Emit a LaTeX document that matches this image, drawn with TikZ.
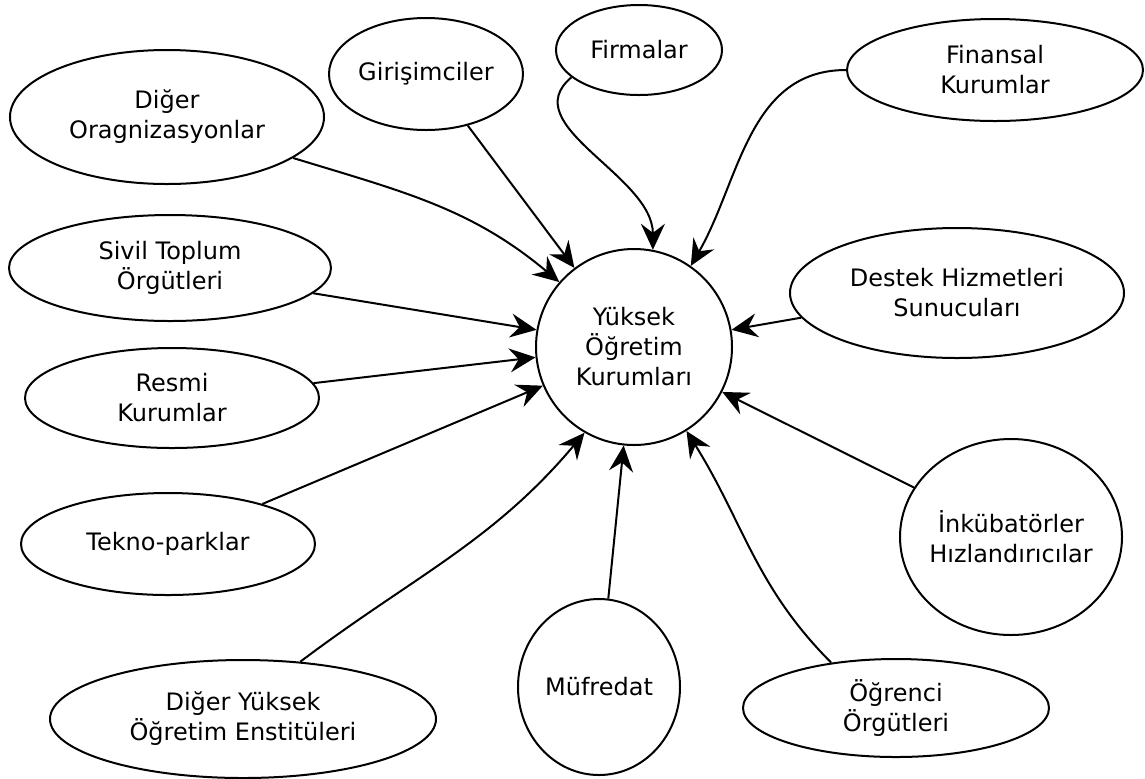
\documentclass[tikz,border=0pt]{standalone}
\usepackage{fontspec}
\setmainfont{DejaVu Sans}
\usetikzlibrary{shapes.geometric,arrows.meta}

\tikzset{
  kurum/.style={draw, ellipse, line width=1pt, inner sep=0pt, align=center},
  merkezi/.style={draw, circle, line width=1pt, inner sep=0pt, align=center},
  ok/.style={draw, line width=1pt, -{Stealth[length=13pt,width=12pt,inset=4.5pt]}}
}

\begin{document}
\begin{tikzpicture}[x=0.5pt, y=-0.5pt, font=\fontsize{12}{15}\selectfont]
\useasboundingbox (0,0) rectangle (1145,778);

\node[merkezi, minimum size=98pt] (merkez) at (634,347) {Yüksek\\Öğretim\\Kurumları};

\node[kurum, minimum width=157pt, minimum height=67pt] (digerorg) at (167,117) {Diğer\\Oragnizasyonlar};
\path[ok] (digerorg.-18) to[out=-17, in=140] (merkez.139);
\node[kurum, minimum width=97pt, minimum height=56pt] (girisim) at (426,74) {Girişimciler};
\path[ok] (girisim.-51) -- (merkez.127);
\node[kurum, minimum width=83pt, minimum height=45pt] (firma) at (639,50) {Firmalar};
\path[ok] (firma.-158) to[out=-140, in=90] (merkez.79);
\node[kurum, minimum width=148pt, minimum height=51pt] (finans) at (995,70) {Finansal\\Kurumlar};
\path[ok] (finans.180) to[out=180, in=60] (merkez.55);

\node[kurum, minimum width=161pt, minimum height=53pt] (sivil) at (170,268) {Sivil Toplum\\Örgütleri};
\path[ok] (sivil.-10) -- (merkez.170);
\node[kurum, minimum width=147pt, minimum height=50pt] (resmi) at (172,398) {Resmi\\Kurumlar};
\path[ok] (resmi.6) -- (merkez.186);
\node[kurum, minimum width=147pt, minimum height=51pt] (tekno) at (168,544) {Tekno-parklar};
\path[ok] (tekno.23) -- (merkez.203);

\node[kurum, minimum width=167pt, minimum height=65pt] (destek) at (957,293) {Destek Hizmetleri\\Sunucuları};
\path[ok] (destek.189) -- (merkez.10);
\node[kurum, inner xsep=-3pt, minimum width=111pt, minimum height=98pt] (inkub) at (1011,537) {İnkübatörler\\Hızlandırıcılar};
\path[ok] (inkub.153) -- (merkez.333);

\node[kurum, minimum width=193pt, minimum height=59pt] (dyuksek) at (243,719) {Diğer Yüksek\\Öğretim Enstitüleri};
\path[ok] (dyuksek.45) to[out=37, in=-130] (merkez.240);
\node[kurum, minimum width=81pt, minimum height=88pt] (mufredat) at (599,687) {Müfredat};
\path[ok] (mufredat.84) -- (merkez.264);
\node[kurum, minimum width=153pt, minimum height=49pt] (ogrenci) at (896,708) {Öğrenci\\Örgütleri};
\path[ok] (ogrenci.145) to[out=135, in=-58] (merkez.302);
\end{tikzpicture}
\end{document}
